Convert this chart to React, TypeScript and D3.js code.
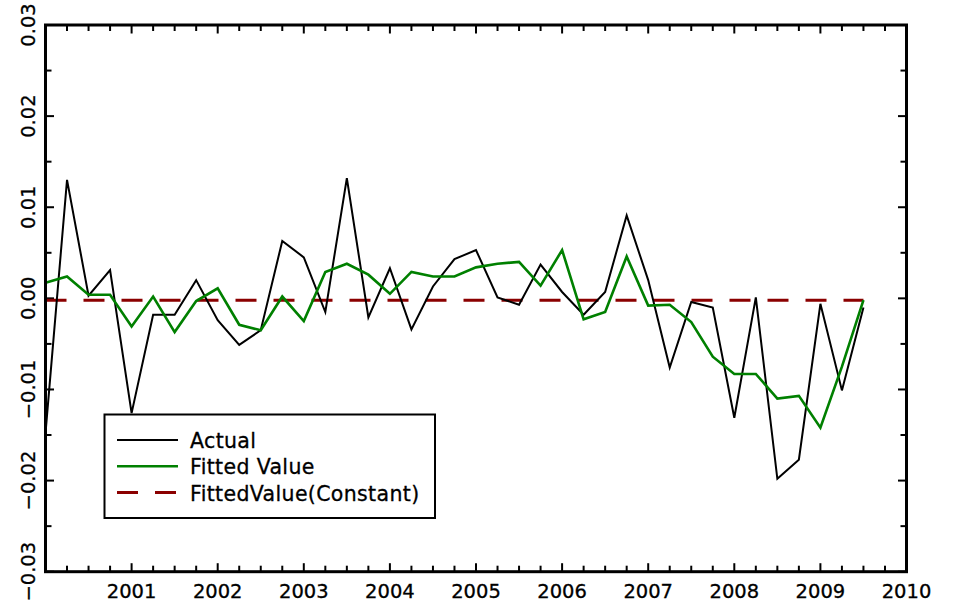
import { useEffect, useRef } from "react";
import * as d3 from "d3";

// quarterly observation dates (decimal years)
const quarters = [
  2000.0, 2000.25, 2000.5, 2000.75, 2001.0, 2001.25, 2001.5, 2001.75,
  2002.0, 2002.25, 2002.5, 2002.75, 2003.0, 2003.25, 2003.5, 2003.75,
  2004.0, 2004.25, 2004.5, 2004.75, 2005.0, 2005.25, 2005.5, 2005.75,
  2006.0, 2006.25, 2006.5, 2006.75, 2007.0, 2007.25, 2007.5, 2007.75,
  2008.0, 2008.25, 2008.5, 2008.75, 2009.0, 2009.25, 2009.5,
];

const actual = [
  -0.0148, 0.013, 0.0003, 0.0031, -0.0126, -0.0018, -0.0018, 0.002,
  -0.0024, -0.0051, -0.0035, 0.0063, 0.0045, -0.0015, 0.0132, -0.0021,
  0.0033, -0.0034, 0.0013, 0.0043, 0.0053, 0.0001, -0.0007, 0.0037,
  0.0007, -0.0018, 0.0007, 0.0091, 0.002, -0.0076, -0.0004, -0.001,
  -0.0131, 0.0001, -0.0198, -0.0177, -0.0006, -0.0101, -0.001,
];

const fitted = [
  0.0017, 0.0024, 0.0004, 0.0004, -0.0031, 0.0002, -0.0037, -0.0003,
  0.0011, -0.0029, -0.0035, 0.0002, -0.0025, 0.0029, 0.0038, 0.0026,
  0.0005, 0.0029, 0.0024, 0.0024, 0.0034, 0.0038, 0.004, 0.0014,
  0.0053, -0.0023, -0.0015, 0.0046, -0.0008, -0.0007, -0.0026, -0.0064,
  -0.0083, -0.0083, -0.011, -0.0107, -0.0142, -0.0075, -0.0002,
];

const constant = -0.0002;

const yearTicks = [2001, 2002, 2003, 2004, 2005, 2006, 2007, 2008, 2009, 2010];
const valueTicks = [-0.03, -0.02, -0.01, 0, 0.01, 0.02, 0.03];

const legendItems = [
  { label: "Actual", color: "#000000", dash: null, width: 2 },
  { label: "Fitted Value", color: "#008000", dash: null, width: 2.6 },
  { label: "FittedValue(Constant)", color: "#8b0000", dash: "21,17", width: 3 },
];

const App = () => {
  const ref = useRef<SVGSVGElement | null>(null);

  useEffect(() => {
    if (!ref.current) return;
    const svg = d3.select(ref.current);
    svg.selectAll("*").remove();

    const width = 955;
    const height = 608;
    const m = { left: 45.5, right: 906.5, top: 25, bottom: 571.7 };
    const font = "'DejaVu Sans', sans-serif";

    const x = d3.scaleLinear().domain([2000, 2010]).range([m.left, m.right]);
    const y = d3.scaleLinear().domain([-0.03, 0.03]).range([m.bottom, m.top]);

    svg.attr("width", width).attr("height", height);
    svg.append("rect").attr("width", width).attr("height", height).attr("fill", "#fff");

    const minorX = d3.range(2000, 2010.001, 0.25).filter((d) => Math.abs(d - Math.round(d)) > 0.01);
    const minorY = d3.range(-0.025, 0.03, 0.01);

    // ticks on all four sides
    const tickG = svg.append("g").attr("stroke", "#000").attr("stroke-width", 2);
    const xt = [
      ...yearTicks.map((d) => ({ v: d, len: 8.5 })),
      ...minorX.map((d) => ({ v: d, len: 6 })),
    ];
    const yt = [
      ...valueTicks.map((d) => ({ v: d, len: 8.5 })),
      ...minorY.map((d) => ({ v: d, len: 6 })),
    ];
    xt.forEach((t) => {
      tickG.append("line").attr("x1", x(t.v)).attr("x2", x(t.v)).attr("y1", m.bottom).attr("y2", m.bottom - t.len);
      tickG.append("line").attr("x1", x(t.v)).attr("x2", x(t.v)).attr("y1", m.top).attr("y2", m.top + t.len);
    });
    yt.forEach((t) => {
      tickG.append("line").attr("y1", y(t.v)).attr("y2", y(t.v)).attr("x1", m.left).attr("x2", m.left + t.len);
      tickG.append("line").attr("y1", y(t.v)).attr("y2", y(t.v)).attr("x1", m.right).attr("x2", m.right - t.len);
    });

    // x labels
    svg
      .append("g")
      .selectAll("text")
      .data(yearTicks)
      .join("text")
      .attr("x", (d) => x(d))
      .attr("y", 598)
      .attr("text-anchor", "middle")
      .attr("font-family", font)
      .attr("font-size", 19.5)
      .attr("fill", "#000")
      .attr("stroke", "#000")
      .attr("stroke-width", 0.3)
      .text((d) => String(d));

    // y labels (rotated)
    const fmt = d3.format(".2f");
    svg
      .append("g")
      .selectAll("text")
      .data(valueTicks)
      .join("text")
      .attr("transform", (d) => `translate(35,${y(d)}) rotate(-90)`)
      .attr("text-anchor", "middle")
      .attr("font-family", font)
      .attr("font-size", 19.5)
      .attr("fill", "#000")
      .attr("stroke", "#000")
      .attr("stroke-width", 0.3)
      .text((d) => fmt(d));

    const line = d3
      .line<number>()
      .x((_, i) => x(quarters[i]))
      .y((d) => y(d));

    // constant fitted value (dashed)
    svg
      .append("line")
      .attr("x1", x(quarters[0]))
      .attr("x2", x(quarters[quarters.length - 1]))
      .attr("y1", y(constant))
      .attr("y2", y(constant))
      .attr("stroke", "#8b0000")
      .attr("stroke-width", 3)
      .attr("stroke-dasharray", "21,17");

    svg
      .append("path")
      .attr("d", line(actual))
      .attr("fill", "none")
      .attr("stroke", "#000")
      .attr("stroke-width", 2)
      .attr("stroke-linejoin", "miter");

    svg
      .append("path")
      .attr("d", line(fitted))
      .attr("fill", "none")
      .attr("stroke", "#008000")
      .attr("stroke-width", 2.6);

    // frame
    svg
      .append("rect")
      .attr("x", m.left)
      .attr("y", m.top)
      .attr("width", m.right - m.left)
      .attr("height", m.bottom - m.top)
      .attr("fill", "none")
      .attr("stroke", "#000")
      .attr("stroke-width", 3);

    // legend
    const lg = svg.append("g");
    lg.append("rect")
      .attr("x", 104.5)
      .attr("y", 414.5)
      .attr("width", 330.5)
      .attr("height", 103.5)
      .attr("fill", "#fff")
      .attr("stroke", "#000")
      .attr("stroke-width", 2);
    legendItems.forEach((it, i) => {
      const cy = 440 + i * 26.3;
      lg.append("line")
        .attr("x1", 117)
        .attr("x2", 178)
        .attr("y1", cy)
        .attr("y2", cy)
        .attr("stroke", it.color)
        .attr("stroke-width", it.width)
        .attr("stroke-dasharray", it.dash);
      lg.append("text")
        .attr("x", 190)
        .attr("y", cy + 8)
        .attr("font-family", font)
        .attr("font-size", 20.5)
        .attr("letter-spacing", 0.35)
        .attr("fill", "#000")
        .attr("stroke", "#000")
        .attr("stroke-width", 0.3)
        .text(it.label);
    });
  }, []);

  return <svg ref={ref} style={{ position: "absolute", left: 0, top: 0 }} />;
};

export default App;
